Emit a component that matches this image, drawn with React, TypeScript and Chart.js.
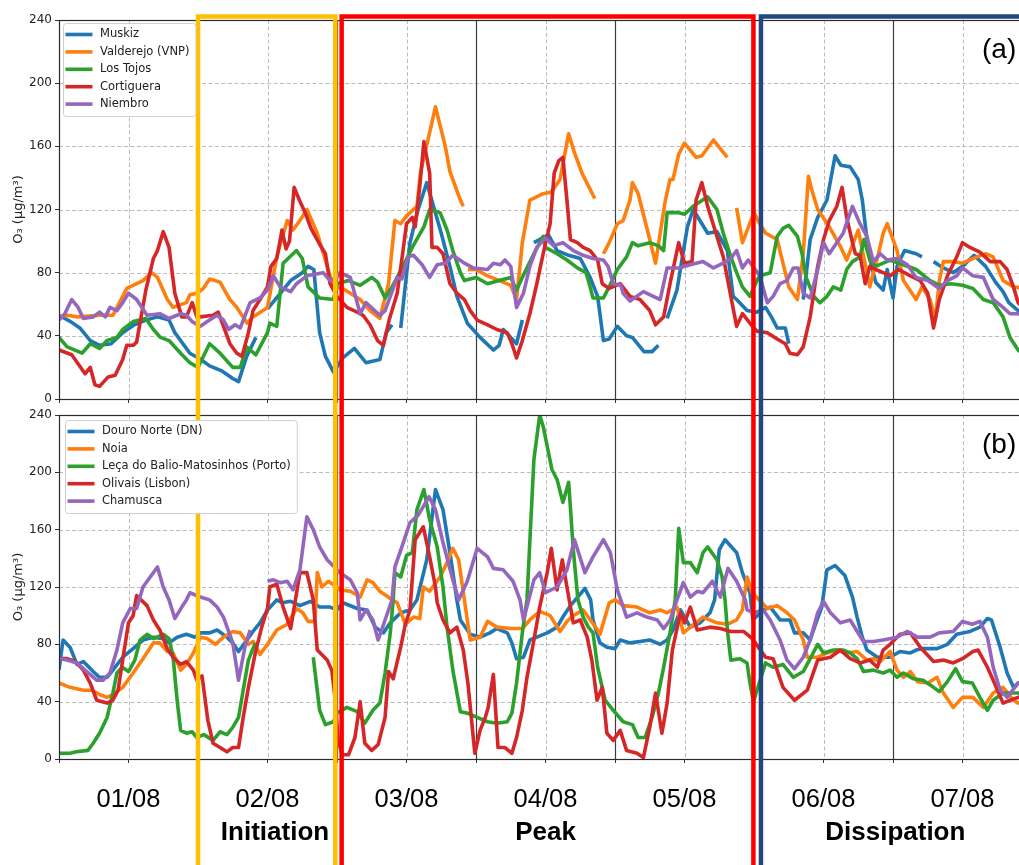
import React, { useEffect, useRef } from "react";
import { Chart, registerables } from "chart.js";

Chart.register(...registerables);

type Pt = [number, number | null];

// ---------- labels ----------
const DAY_LABELS = ["01/08", "02/08", "03/08", "04/08", "05/08", "06/08", "07/08"];
const X_TICK_HOURS = [0, 12, 24, 36, 48, 60, 72, 84, 96, 108, 120, 132, 144, 156, 168];
const Y_TICKS = [0, 40, 80, 120, 160, 200, 240];
const Y_TITLE = "O\u2083 (\u03bcg/m\u00b3)";

const NAMES_A = ["Muskiz", "Valderejo (VNP)", "Los Tojos", "Cortiguera", "Niembro"];
const NAMES_B = ["Douro Norte (DN)", "Noia", "Le\u00e7a do Balio-Matosinhos (Porto)", "Olivais (Lisbon)", "Chamusca"];

const PHASE_NAMES = ["Initiation", "Peak", "Dissipation"];
const PHASE_START = [24, 48.8, 121.2];
const PHASE_END = [47.7, 119.9, 200];
const PHASE_LABEL_AT = [37.3, 84, 144.4];

// ---------- panel (a) data: [hour since 01/08 00:00, O3] ----------
const MUSKIZ: Pt[] = [
  [0, 53], [2, 49], [3.6, 45], [5.4, 37], [7, 34], [9, 35], [11, 42], [13, 47], [15, 50], [17, 52], [19, 50], [20, 42],
  [22.6, 29], [24.5, 25], [26, 21], [28, 18], [30, 13], [31, 11], [32.4, 27], [34, 39], [35, null], [36, 57], [38, 66],
  [40, 75], [42, 80], [43, 84], [44, 82], [45, 42], [46, 27], [47.4, 17], [49, 26], [51, 32], [53, 23], [55.4, 25],
  [56.5, 42], [57.5, 47], [58.2, null], [59, 45], [60.6, 99], [62, 120], [63.5, 137], [66, 105], [67.5, 84], [68.7, 65],
  [70.5, 48], [72.7, 39], [75, 31], [76, 34], [76.7, 44], [78, 39], [79, 35], [80, 50], [81, null], [82, 99], [84.5, 104],
  [86, 94], [88, 91], [90, 89], [91.7, 77], [93, 65], [94, 37], [95, 38], [96.4, 46], [98, 40], [99, 39], [101, 30],
  [102.4, 30], [103.5, 34], [104.3, null], [105, 51], [106.7, 69], [108.5, 109], [109.5, 120], [112, 105], [113.6, 106],
  [115.4, 94], [116.4, 65], [117, 63], [118.8, 56], [120.5, 55], [122, 58], [123, 52], [124, 45], [125.4, 45], [126, 35],
  [127, null], [128.5, 63], [129.7, 101], [131, 115], [132.6, 126], [134, 154], [135, 148], [136.6, 147], [138, 139],
  [138.7, 126], [139.5, 101], [140, 89], [141, 74], [142.3, 69], [143, 82], [144, 64], [144.7, 84], [146, 94], [148, 92],
  [149, 90], [150, null], [151, 87], [152.7, 83], [154.4, 80], [156, 84], [158, 91], [160, 84], [161.7, 74], [163, 68],
  [164, 61], [165.6, 56], [167, 53],
];

const VALDEREJO: Pt[] = [
  [0, 52], [1.4, 53], [3.1, 52], [7.1, 53], [9.3, 53], [11.7, 70], [14.5, 75], [16, 80], [17, 77], [18.7, 63], [19.7, 58],
  [22, 61], [22.6, 66], [23.8, 67], [24.9, 70], [26, 76], [27.8, 74], [29.5, 63], [30.7, 58], [32.5, 48], [33.5, 52],
  [36, 58], [37.6, 90], [39.4, 113], [40.4, 107], [41.6, 113], [42.8, 120], [44.6, 105], [46.3, 84], [47.4, 71], [49, 70],
  [52, 63], [53.7, 56], [55.4, 51], [56.9, 73], [58, 113], [59, 111], [60, 116], [61.8, 122], [62.4, 143], [65, 185],
  [66.7, 160], [67.5, 144], [69.3, 126], [69.8, 122], [70.2, null], [70.6, 82], [72, 82], [74, 78], [76.7, 74], [78, 72],
  [79, 63], [80, 99], [81.3, 126], [83.6, 130], [85, 131], [86.5, 139], [88, 168], [89, 156], [90.3, 143], [92.5, 127],
  [93.2, null], [94, 92], [95, 99], [96.4, 111], [97.4, 113], [98.6, 126], [99, 137], [100, 130], [102, 101], [103, 86],
  [103.8, 105], [104.7, 126], [105.5, 139], [106, 139], [107, 155], [108, 162], [110, 153], [111, 154], [113, 164],
  [115.4, 153], [116.2, null], [117, 121], [118, 99], [120, 118], [121, 111], [122, 105], [124, 101], [125, 86], [126, 71],
  [127.5, 63], [128.5, 92], [129.4, 141], [130, 132], [131, 120], [133, 109], [135, 96], [136, 88], [138, 107], [140, 71],
  [140.6, 80], [141.5, 92], [142.3, 105], [143, 111], [144.7, 94], [145.8, 75], [148, 63], [149, 71], [150.4, 63],
  [151.3, 50], [152, 75], [152.7, 87], [154.4, 87], [156, 86], [158.5, 90], [160, 92], [161.3, 90], [163, 75],
  [164.8, 71], [167, 70],
];

const LOS_TOJOS: Pt[] = [
  [0, 39], [1.4, 33], [4, 29], [5.4, 35], [7, 32], [8.3, 37], [10, 39], [11, 44], [12.8, 49], [15, 51], [16.3, 44],
  [17.5, 39], [19, 37], [21, 29], [22.6, 23], [24, 20], [26, 35], [27.8, 29], [30, 20], [31.3, 20], [32.4, 33], [34, 28],
  [36, 42], [36.4, 48], [37.6, 46], [38.7, 86], [41, 94], [42, 89], [43, 71], [45, 64], [47.4, 63], [48, 73], [50, 75],
  [52, 72], [54, 77], [55, 74], [56.3, 64], [57.5, 71], [59.4, 84], [61, 96], [63, 109], [64, 120], [65.8, 118], [67, 107],
  [68, 94], [69.3, 80], [70, 75], [72, 77], [74, 73], [76, 75], [78, 77], [79, 69], [80, 77], [82, 92], [83.6, 103],
  [84, 96], [86, 92], [87.7, 88], [89.5, 83], [91, 80], [91.7, 71], [92.2, 64], [94, 64], [95, 71], [96.4, 82], [98, 90],
  [99, 99], [100, 97], [102, 99], [103.5, 97], [104.4, 94], [105, 118], [107, 118], [108, 117], [109.5, 122], [112, 128],
  [113.6, 120], [114.7, 105], [116, 90], [117, 80], [118, 71], [119.3, 65], [120.5, 75], [121, 78], [122.8, 80],
  [124, 103], [125, 108], [126, 110], [127.5, 103], [128.3, 92], [129, 77], [130.3, 65], [131.4, 61], [132.6, 65],
  [133.7, 71], [135, 69], [136, 82], [137, 87], [138.3, 90], [139, 101], [140, 88], [141, 84], [143.5, 88], [145.8, 85],
  [148, 82], [150.4, 75], [152, 72], [154, 73], [156, 72], [157.8, 70], [159.6, 63], [161.3, 61], [163, 52], [164.2, 39],
  [165.6, 31], [167, 27],
];

const CORTIGUERA: Pt[] = [
  [0, 31], [2.2, 28], [4.5, 16], [5.4, 20], [6.2, 9], [7, 8], [8.5, 14], [9.7, 15], [11, 25], [11.7, 34], [12.8, 34],
  [13.4, 36], [15, 69], [16.3, 89], [17, 94], [18, 106], [19, 96], [20, 67], [21.2, 52], [22, 52], [23, 61], [23.8, 52],
  [24.4, 52], [26.6, 53], [27.5, 55], [29.5, 35], [30.7, 29], [31.6, 27], [32.7, 42], [33.5, 56], [34.7, 63], [36, 71],
  [36.6, 84], [37.6, 89], [38.5, 107], [39.2, 95], [39.8, 100], [40.6, 134], [41.5, 126], [42.5, 118], [43.5, 108],
  [45, 98], [46, 92], [46.8, 73], [48, 65], [49.7, 58], [51.5, 55], [52.5, 53], [53.7, 47], [55, 37], [56, 34], [57, 50],
  [58.4, 67], [59.4, 94], [60, 111], [61, 115], [61.5, 109], [62.3, 135], [63, 163], [64, 143], [64.4, 96], [65.3, 96],
  [66.3, 92], [67.5, 73], [68.7, 67], [70, 63], [71, 56], [72.2, 50], [74, 47], [75.6, 44], [77.4, 42], [78.2, 35],
  [79, 26], [80, 37], [81.3, 54], [82.5, 73], [83.6, 92], [84.8, 111], [85.5, 143], [86.3, 151], [87, 153], [87.7, 126],
  [88.3, 101], [89.5, 99], [90.5, 96], [91.7, 94], [93, 88], [93.8, 73], [95, 70], [96.9, 73], [98.6, 65], [100.3, 63],
  [102, 56], [103, 47], [104.4, 52], [105.5, 73], [107, 99], [108, 86], [109.3, 87], [110, 126], [111, 137], [112, 122],
  [113.6, 103], [114.7, 90], [116, 65], [117, 46], [118, 54], [119.3, 48], [120.5, 43], [122.3, 42], [124, 38],
  [125.4, 35], [126.2, 29], [127.5, 28], [128.5, 33], [129.7, 52], [131, 84], [132, 101], [133, 113], [134.3, 122],
  [135.2, 134], [136, 115], [137, 99], [137.5, 92], [138.3, 91], [139.2, 73], [140, 84], [141, 82], [142.3, 80],
  [143.5, 78], [145, 82], [147, 78], [148.7, 75], [150, 67], [151, 45], [152, 63], [153.4, 78], [155, 90], [156, 99],
  [157.3, 96], [159, 93], [160.8, 87], [162.5, 87], [163.7, 82], [164.8, 71], [165.6, 61], [167, 55],
];

const NIEMBRO: Pt[] = [
  [0, 50], [1, 54], [2.2, 63], [3.3, 58], [4.2, 51], [5.9, 52], [7, 55], [8, 52], [8.8, 58], [10, 56], [11, 61], [12, 67],
  [13.4, 63], [15.2, 53], [17.4, 54], [19, 51], [21, 54], [22, 53], [23, 49], [24.4, 46], [26, 50], [27.3, 53], [28.4, 50],
  [29.3, 44], [30.4, 47], [31.3, 45], [33, 61], [34.7, 64], [36, 69], [37, 78], [38.2, 71], [40, 68], [41, 73], [42.8, 78],
  [45.6, 80], [46.8, 75], [48, 77], [48.5, 80], [50.3, 77], [52, 54], [53, 61], [55.4, 53], [56.3, 56], [58.4, 77],
  [59.2, 76], [60.3, 90], [61.2, 91], [62.7, 85], [64, 77], [65.3, 85], [66.7, 86], [68, 91], [70, 86], [71.5, 83], [74, 82],
  [75, 86], [76.2, 85], [77, 88], [78, 84], [79, 58], [80.2, 67], [81.3, 84], [82.5, 96], [84, 102], [85.4, 97], [87, 99],
  [88.8, 94], [90.5, 91], [92.2, 89], [94, 88], [94.8, 84], [95.7, 73], [97, 72], [97.4, 67], [98.6, 62], [100.9, 68],
  [102.6, 65], [103.8, 63], [105, 83], [107, 83], [109, 85], [111.2, 87], [113, 83], [114.7, 86], [116, 89], [117, 94],
  [118, 83], [119, 88], [120, 83], [121, 78], [122.3, 61], [123.3, 65], [124.5, 73], [125.7, 75], [126.8, 83], [127.6, 83],
  [128.5, 67], [129.7, 64], [131, 82], [132, 99], [133, 92], [135.4, 105], [137, 122], [138.3, 111], [139.5, 103],
  [140.6, 87], [141.8, 92], [143, 88], [144.7, 89], [146.5, 85], [148, 77], [150, 75], [152, 70], [153.4, 75], [155, 78],
  [156, 83], [157.8, 78], [159.6, 77], [161.3, 63], [163, 58], [164.2, 54], [165.6, 54], [167, 52],
];

// ---------- panel (b) data ----------
const DOURO_NORTE: Pt[] = [
  [0, 62], [0.7, 83], [1.9, 78], [3.1, 66], [4.2, 68], [5.9, 61], [7, 57], [8.3, 57], [9.3, 62], [11, 71], [12.8, 77],
  [14.5, 83], [16.3, 85], [18, 84], [19, 81], [20.4, 85], [22, 87], [23.5, 85], [24.4, 88], [26, 88], [27.3, 90], [29, 85],
  [30, 81], [31, 75], [32.1, 81], [33.5, 89], [34.7, 95], [36, 104], [37.6, 111], [38.5, 109], [40, 110], [41.6, 107],
  [43.4, 110], [45, 106], [46.8, 106], [48, 104], [49, 109], [51.5, 105], [53.2, 104], [54.6, 92], [56, 88], [57.2, 95],
  [59, 102], [60.6, 104], [61.8, 111], [63.5, 139], [65, 188], [66.3, 174], [67.5, 144], [68.7, 111], [69.3, 97], [71, 87],
  [72.7, 85], [74.4, 88], [75.6, 91], [77.4, 88], [78.2, 81], [79, 70], [80.2, 71], [81.3, 83], [82.5, 85], [84.3, 88],
  [86, 92], [87, 99], [88.3, 107], [90, 115], [90.8, 119], [91.8, 111], [92.2, 97], [93.4, 81], [94.6, 78], [96, 77],
  [96.9, 83], [98.6, 81], [100.3, 82], [102, 83], [103.8, 80], [105, 83], [106, 90], [107.3, 104], [109, 92], [110.7, 95],
  [112.4, 102], [113.2, 111], [114, 146], [115, 153], [117, 144], [118, 130], [119.3, 116], [119.8, 97], [121.6, 104],
  [122.8, 106], [124.5, 97], [126.2, 97], [127, 88], [128.5, 88], [129.7, 83], [130.7, 95], [131.7, 106], [132.6, 132],
  [134, 135], [135.7, 128], [137, 113], [137.8, 99], [138.7, 85], [139.5, 76], [141.3, 71], [143.5, 71], [145.2, 75],
  [147, 74], [148, 76], [149, 77], [151.6, 77], [153.4, 80], [155, 87], [157.3, 89], [159, 92], [160.3, 98], [161, 97],
  [162.5, 78], [163.7, 60], [164.8, 50], [165.6, 53], [167, 54],
];

const NOIA: Pt[] = [
  [0, 53], [1.9, 50], [4.2, 48], [5.6, 48], [7, 45], [8.3, 43], [9.3, 45], [11, 50], [12.8, 60], [14.5, 70], [16.3, 81],
  [17.4, 81], [18.7, 75], [19.7, 74], [21, 62], [22, 66], [23.2, 74], [24.4, 85], [25.6, 84], [27, 80], [28.4, 85], [30, 89],
  [31.3, 88], [32.7, 80], [33.5, 82], [34.7, 73], [36, 80], [37.6, 90], [39.4, 94], [41, 105], [42.1, 102], [43, 96],
  [44.2, 96], [44.6, 130], [45.4, 120], [46.5, 124], [48, 120], [48.5, 118], [50.3, 117], [52, 113], [53.2, 125],
  [54.2, 123], [55.4, 117], [57.2, 112], [58.4, 109], [59.8, 94], [61.2, 99], [62.3, 98], [62.9, 120], [64, 117],
  [65.8, 127], [67, 137], [68, 147], [69, 139], [70, 111], [70.5, 97], [71, 83], [72.7, 85], [74, 96], [75.6, 92], [78, 91],
  [80, 91], [81.3, 97], [83, 103], [84.8, 100], [86.5, 89], [87.7, 96], [88.8, 100], [90.5, 104], [93, 90], [93.4, 87],
  [95, 109], [96, 111], [97.4, 107], [99.8, 106], [102, 102], [103.8, 104], [105, 102], [106.7, 106], [107.8, 88],
  [109, 92], [111.2, 99], [113.6, 95], [115.4, 94], [117, 97], [118, 104], [118.8, 127], [119.7, 116], [122.3, 105],
  [124, 107], [125.7, 102], [127, 97], [128.5, 83], [129.2, 71], [131, 71], [132.6, 74], [134.4, 76], [136, 74],
  [137.8, 75], [139.5, 69], [140.6, 70], [141.8, 68], [143.5, 75], [144.7, 62], [145.8, 57], [147, 61], [148.2, 54],
  [150, 53], [151.6, 57], [152.7, 46], [154.4, 36], [156, 43], [157.8, 43], [159.6, 36], [161.3, 46], [163, 50],
  [164.8, 41], [165.6, 39], [167, 40],
];

const LECA: Pt[] = [
  [0, 4], [1.9, 4], [3, 5], [5, 6], [5.9, 11], [7, 18], [8.3, 29], [9.3, 46], [10, 60], [10.9, 64], [12, 61], [13.1, 69],
  [14, 83], [15.2, 87], [16.3, 84], [18, 87], [19, 84], [19.7, 71], [20.4, 41], [21, 20], [22, 18], [23, 19], [23.8, 15],
  [25, 17], [26.6, 13], [27.8, 19], [29, 17], [30, 22], [31, 29], [31.8, 48], [32.7, 69], [33.9, 81], [34.5, null],
  [43.9, 71], [45, 34], [46, 24], [47.4, 26], [48, 32], [49.7, 36], [51.5, 33], [52.8, 25], [54.2, 34], [55.4, 39],
  [56.3, 60], [57.2, 88], [57.7, 111], [58, 130], [59, 127], [60, 142], [61, 144], [61.8, 174], [63, 188], [64, 167],
  [65.3, 148], [66.3, 120], [67, 92], [68, 62], [69.3, 33], [70.5, 32], [72.2, 29], [74, 26], [75.6, 25], [77.4, 26],
  [78.2, 32], [79, 53], [80, 88], [80.8, 111], [82, 209], [83, 240], [83.6, 232], [85.1, 202], [86, 195], [87, 179],
  [88, 193], [88.8, 146], [89.6, 111], [90.5, 99], [91.4, 92], [92.2, 88], [93, 64], [94.3, 41], [95.7, 34], [97.4, 26],
  [99, 24], [100, 15], [101.2, 15], [102.4, 29], [103.5, 46], [104.4, 64], [105.5, 88], [106.4, 111], [107, 161],
  [107.8, 137], [109, 137], [110.2, 130], [111.2, 144], [112, 148], [113.6, 139], [114.5, 127], [115, 111], [115.4, 90],
  [116, 69], [117.6, 70], [118.8, 67], [119.3, 53], [119.9, 40], [122, 67], [123.3, 64], [125, 66], [126.8, 57],
  [128.5, 61], [129.7, 70], [131, 80], [132, 74], [133.7, 76], [135.4, 76], [136.6, 74], [137.8, 70], [138.9, 61],
  [140.6, 62], [142.3, 60], [143.5, 62], [144.7, 57], [145.8, 60], [147.5, 56], [149.2, 55], [151, 50], [152, 47],
  [153.4, 54], [154.8, 63], [156, 54], [157.7, 53], [159, 43], [160.3, 34], [161.3, 41], [163, 46], [167, 46],
];

const OLIVAIS: Pt[] = [
  [0, 70], [1.4, 70], [2.8, 68], [4.2, 62], [5.4, 53], [6.5, 41], [8.3, 39], [9.3, 41], [10.2, 48], [11, 69], [12, 95],
  [12.8, 100], [13.4, 114], [15.2, 107], [16.3, 97], [17.4, 90], [18.7, 77], [19.7, 71], [21, 66], [22, 68], [23.2, 62],
  [23.8, 55], [24.7, 58], [25.7, 27], [26.6, 11], [27.8, 8], [29, 5], [30, 8], [31, 8], [31.8, 29], [32.7, 50], [33.9, 74],
  [35, 92], [36, 105], [36.4, 120], [37.6, 122], [38.7, 106], [40, 91], [41.6, 130], [42.8, 130], [43.9, 111], [44.6, 76],
  [46.3, 69], [47.1, 62], [47.7, 41], [48.2, 13], [48.9, 3], [50, 3], [51.1, 15], [52, 40], [52.8, 11], [54, 6],
  [55.1, 10], [56.3, 29], [56.9, 61], [57.7, 56], [59, 78], [59.8, 94], [60.6, 104], [61.5, 153], [62.9, 162], [64, 141],
  [65, 120], [65.3, 109], [66.3, 97], [67.5, 88], [68.7, 92], [69.8, 76], [70.6, 53], [71.8, 4], [72.7, 20], [73.6, 29],
  [74.1, 36], [75, 59], [75.8, 8], [77, 8], [78.2, 4], [79, 15], [80, 34], [80.8, 57], [82, 83], [83, 106], [84.3, 130],
  [85, 147], [86, 118], [86.9, 139], [87.7, 120], [88.8, 95], [90, 97], [91.2, 85], [92, 69], [92.9, 41], [93.8, 50],
  [94.6, 18], [95.7, 13], [96.9, 20], [98, 6], [99.8, 4], [100.9, 1], [102, 22], [103, 46], [104.1, 18], [105, 39],
  [105.9, 76], [106.7, 91], [107.3, 102], [108, 95], [109, 106], [110.2, 90], [112.4, 92], [114.2, 91], [116, 89],
  [118.2, 89], [119.7, 84], [122, 71], [123.3, 70], [125, 50], [127, 41], [129.2, 48], [131, 69], [133.2, 71], [134.9, 76],
  [136.6, 70], [138.3, 67], [140, 69], [141.3, 64], [142.3, 76], [143.5, 80], [145.2, 87], [147, 88], [148.7, 78],
  [151, 68], [152.7, 69], [154.4, 67], [156, 70], [157.8, 75], [158.7, 76], [160.3, 64], [161.3, 55], [163, 39],
  [164.2, 41], [165.6, 43], [167, 44],
];

const CHAMUSCA: Pt[] = [
  [0, 70], [1.4, 69], [3.1, 67], [4.8, 61], [6.5, 55], [7.6, 55], [8.8, 60], [10, 76], [11, 95], [12.3, 105], [13.4, 105],
  [14.5, 120], [17, 134], [18, 120], [19, 111], [20, 98], [21.2, 106], [22, 111], [22.6, 116], [24.4, 113], [26, 111],
  [27.3, 106], [28.4, 99], [30, 81], [31, 55], [32.1, 78], [33, 90], [34, null], [36, 124], [37, 125], [38.2, 123],
  [39.4, 124], [40.4, 118], [41.6, 132], [42.8, 169], [43.9, 160], [45, 148], [46.3, 139], [48, 132], [48.5, 130],
  [50.3, 125], [51.5, 116], [52, 97], [53, 104], [54.2, 97], [55.1, 83], [56.3, 97], [57.5, 111], [58, 134], [59.2, 148],
  [60.6, 165], [62, 170], [63.9, 183], [65, 174], [66.3, 151], [68, 125], [69, 111], [70.5, 124], [72.2, 147], [74, 141],
  [75, 133], [76.7, 132], [78.4, 124], [79.6, 111], [80.2, 97], [82, 125], [83, 130], [84, 116], [86, 120], [87.7, 132],
  [89, 153], [90.8, 130], [92.2, 141], [94, 153], [95.2, 144], [96.4, 118], [97, 111], [98, 99], [99.8, 102], [101.5, 99],
  [103.3, 97], [104.4, 91], [105.5, 97], [106.7, 111], [107.8, 123], [109, 113], [110.2, 117], [111.2, 116], [112.8, 124],
  [114.2, 113], [115.5, 133], [117, 124], [118.5, 111], [118.8, 104], [120, 102], [121.6, 104], [122.8, 97], [124.5, 83],
  [125.7, 69], [127, 63], [128.5, 71], [129.7, 83], [131, 102], [132, 110], [133.2, 102], [134.9, 95], [136.6, 97],
  [138.9, 82], [140.6, 82], [142.3, 83], [144.7, 85], [146.5, 89], [148.2, 85], [150.4, 85], [152, 88], [154.4, 89],
  [156, 96], [157.7, 94], [159, 96], [160.3, 85], [161.3, 64], [162.5, 48], [163.7, 43], [165.6, 53], [167, 55],
];

const SERIES_A = [MUSKIZ, VALDEREJO, LOS_TOJOS, CORTIGUERA, NIEMBRO];
const SERIES_B = [DOURO_NORTE, NOIA, LECA, OLIVAIS, CHAMUSCA];

// ---------- styles ----------
const COLORS = ["#1f77b4", "#ff7f0e", "#2ca02c", "#d62728", "#9467bd"];
const PHASE_COLORS = ["#FFC000", "#FF0000", "#24477F"];
const W = 1040;
const H_A = 407;
const H_B = 458;

function makeDecor(opts: {
  names: string[];
  letter: string;
  isTop: boolean;
  legendDX: number;
  legendDY: number;
  letterDY: number;
}) {
  return {
    id: "decor",
    beforeDatasetsDraw(chart: any) {
      const { ctx, chartArea: a, scales } = chart;
      const xs = scales.x;
      const ys = scales.y;
      ctx.save();
      ctx.lineWidth = 0.9;
      ctx.strokeStyle = "#b3b3b3";
      ctx.setLineDash([4, 2.5]);
      ctx.beginPath();
      for (const v of Y_TICKS) {
        if (v <= 0 || v >= 240) continue;
        const py = Math.round(ys.getPixelForValue(v)) + 0.5;
        ctx.moveTo(a.left, py);
        ctx.lineTo(a.right, py);
      }
      for (const h of X_TICK_HOURS) {
        if (h % 24 !== 12) continue;
        const px = Math.round(xs.getPixelForValue(h)) + 0.5;
        ctx.moveTo(px, a.top);
        ctx.lineTo(px, a.bottom);
      }
      ctx.stroke();
      ctx.setLineDash([]);
      ctx.strokeStyle = "#3c3c3c";
      ctx.lineWidth = 1.2;
      ctx.beginPath();
      for (const h of X_TICK_HOURS) {
        if (h % 24 !== 0 || h === 0 || h >= 168) continue;
        const px = Math.round(xs.getPixelForValue(h)) + 0.5;
        ctx.moveTo(px, a.top);
        ctx.lineTo(px, a.bottom);
      }
      ctx.stroke();
      ctx.restore();
    },
    afterDatasetsDraw(chart: any) {
      const { ctx, chartArea: a, scales } = chart;
      const xs = scales.x;
      const H = chart.height;
      ctx.save();
      // frame
      ctx.strokeStyle = "#2b2b2b";
      ctx.lineWidth = 1.2;
      ctx.strokeRect(a.left + 0.5, a.top + 0.5, a.right - a.left, a.bottom - a.top);

      // phase boxes
      ctx.lineJoin = "miter";
      ctx.lineWidth = 4.5;
      for (let i = 0; i < PHASE_NAMES.length; i++) {
        const l = xs.getPixelForValue(PHASE_START[i]);
        const r = xs.getPixelForValue(PHASE_END[i]);
        ctx.strokeStyle = PHASE_COLORS[i];
        ctx.beginPath();
        if (opts.isTop) {
          const ty = 16.5;
          ctx.moveTo(l, H + 5);
          ctx.lineTo(l, ty);
          ctx.lineTo(r, ty);
          ctx.lineTo(r, H + 5);
        } else {
          ctx.moveTo(l, -5);
          ctx.lineTo(l, H + 5);
          ctx.moveTo(r, -5);
          ctx.lineTo(r, H + 5);
        }
        ctx.stroke();
      }

      // legend
      ctx.font = '11.5px "DejaVu Sans"';
      let maxW = 0;
      for (const n of opts.names) maxW = Math.max(maxW, ctx.measureText(n).width);
      const bx = a.left + opts.legendDX;
      const by = a.top + opts.legendDY;
      const bw = 37 + maxW + 6;
      const rowH = 17.4;
      const bh = rowH * opts.names.length + 6;
      ctx.fillStyle = "#ffffff";
      ctx.strokeStyle = "#cfcfcf";
      ctx.lineWidth = 1;
      ctx.beginPath();
      if (ctx.roundRect) ctx.roundRect(bx + 0.5, by + 0.5, bw, bh, 3);
      else ctx.rect(bx + 0.5, by + 0.5, bw, bh);
      ctx.fill();
      ctx.stroke();
      ctx.textBaseline = "middle";
      ctx.textAlign = "left";
      opts.names.forEach((n, i) => {
        const cy = by + 11.5 + i * rowH;
        ctx.strokeStyle = COLORS[i];
        ctx.lineWidth = 3.6;
        ctx.lineCap = "butt";
        ctx.beginPath();
        ctx.moveTo(bx + 2.5, cy);
        ctx.lineTo(bx + 29.5, cy);
        ctx.stroke();
        ctx.fillStyle = "#222";
        ctx.fillText(n, bx + 37, cy);
      });

      // panel letter
      ctx.fillStyle = "#000";
      ctx.font = '28px "Liberation Sans"';
      ctx.textBaseline = "alphabetic";
      ctx.textAlign = "left";
      ctx.fillText(opts.letter, a.left + 923, a.top + opts.letterDY);

      // phase names under the bottom panel
      if (!opts.isTop) {
        ctx.font = 'bold 26px "Liberation Sans"';
        ctx.textAlign = "center";
        const base = 840 - (865 - H);
        for (let i = 0; i < PHASE_NAMES.length; i++) {
          ctx.fillText(PHASE_NAMES[i], xs.getPixelForValue(PHASE_LABEL_AT[i]), base);
        }
      }
      ctx.restore();
    },
  };
}

function buildConfig(series: Pt[][], names: string[], isTop: boolean): any {
  return {
    type: "line",
    data: {
      datasets: series.map((s, i) => ({
        label: names[i],
        data: s.map(([x, y]) => ({ x, y })),
        borderColor: COLORS[i],
        backgroundColor: COLORS[i],
        borderWidth: 3.6,
        pointRadius: 0,
        tension: 0,
        spanGaps: false,
        fill: false,
        order: 4 - i,
        borderJoinStyle: "round",
        borderCapStyle: "butt",
      })),
    },
    options: {
      responsive: false,
      animation: false,
      devicePixelRatio: 1,
      events: [],
      layout: { padding: { top: isTop ? 20 : 8, right: 8, left: 0, bottom: 0 } },
      plugins: { legend: { display: false }, tooltip: { enabled: false }, title: { display: false } },
      scales: {
        x: {
          type: "linear",
          min: 0,
          max: 168,
          afterBuildTicks: (s: any) => {
            s.ticks = X_TICK_HOURS.map((v) => ({ value: v }));
          },
          afterFit: (s: any) => {
            s.height = isTop ? 8 : 106;
            s.paddingLeft = 0;
            s.paddingRight = 0;
          },
          grid: { display: true, drawOnChartArea: false, drawTicks: true, tickLength: 4, tickColor: "#333", lineWidth: 1 },
          border: { display: false },
          ticks: {
            display: !isTop,
            autoSkip: false,
            maxRotation: 0,
            minRotation: 0,
            padding: 22,
            color: "#000",
            font: { family: "Liberation Sans", size: 25.5 },
            callback: (v: number) => (v % 24 === 12 ? DAY_LABELS[(v - 12) / 24] : ""),
          },
        },
        y: {
          min: 0,
          max: 240,
          afterBuildTicks: (s: any) => {
            s.ticks = Y_TICKS.map((v) => ({ value: v }));
          },
          afterFit: (s: any) => {
            s.width = 59;
            s.paddingTop = 0;
            s.paddingBottom = 0;
          },
          grid: { display: true, drawOnChartArea: false, drawTicks: true, tickLength: 4, tickColor: "#333", lineWidth: 1 },
          border: { display: false },
          ticks: { padding: 3, color: "#222", font: { family: "DejaVu Sans", size: 12 } },
          title: {
            display: true,
            text: Y_TITLE,
            color: "#222",
            font: { family: "DejaVu Sans", size: 13 },
            padding: { top: 11, bottom: 0 },
          },
        },
      },
    },
    plugins: [
      makeDecor({
        names,
        letter: isTop ? "(a)" : "(b)",
        isTop,
        legendDX: isTop ? 4 : 6,
        legendDY: isTop ? 3 : 5,
        letterDY: isTop ? 38 : 38,
      }),
    ],
  };
}

export default function App() {
  const refA = useRef<HTMLCanvasElement>(null);
  const refB = useRef<HTMLCanvasElement>(null);

  useEffect(() => {
    document.body.style.margin = "0";
    const a = new Chart(refA.current as HTMLCanvasElement, buildConfig(SERIES_A, NAMES_A, true));
    const b = new Chart(refB.current as HTMLCanvasElement, buildConfig(SERIES_B, NAMES_B, false));
    return () => {
      a.destroy();
      b.destroy();
    };
  }, []);

  return (
    <div
      style={{
        position: "absolute",
        left: 0,
        top: 0,
        width: 1019,
        height: 865,
        overflow: "hidden",
        background: "#fff",
      }}
    >
      <canvas ref={refA} width={W} height={H_A} style={{ position: "absolute", left: 0, top: 0 }} />
      <canvas ref={refB} width={W} height={H_B} style={{ position: "absolute", left: 0, top: H_A }} />
    </div>
  );
}
